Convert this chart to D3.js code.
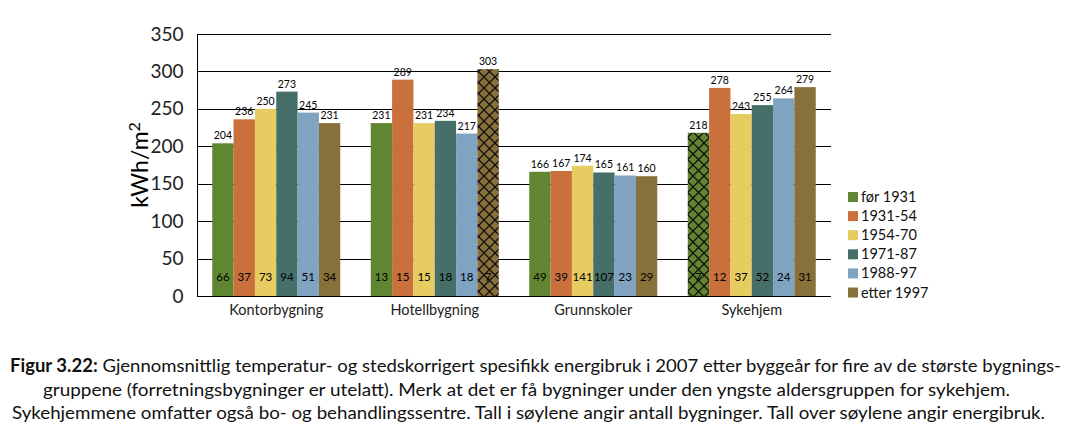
<!DOCTYPE html>
<html>
<head>
<meta charset="utf-8">
<script src="https://cdn.jsdelivr.net/npm/d3@7"></script>
<style>
html,body{margin:0;padding:0;background:#fff;}
svg{display:block;}
</style>
</head>
<body>
<svg id="chart" width="1066" height="428"></svg>
<script>
const categories = ["Kontorbygning", "Hotellbygning", "Grunnskoler", "Sykehjem"];
const seriesNames = ["før 1931", "1931-54", "1954-70", "1971-87", "1988-97", "etter 1997"];
const energy_for1931 = [204, 231, 166, 218];
const energy_1931_54 = [236, 289, 167, 278];
const energy_1954_70 = [250, 231, 174, 243];
const energy_1971_87 = [273, 234, 165, 255];
const energy_1988_97 = [245, 217, 161, 264];
const energy_etter1997 = [231, 303, 160, 279];
const count_for1931 = [66, 13, 49, 7];
const count_1931_54 = [37, 15, 39, 12];
const count_1954_70 = [73, 15, 141, 37];
const count_1971_87 = [94, 18, 107, 52];
const count_1988_97 = [51, 18, 23, 24];
const count_etter1997 = [34, 7, 29, 31];
const yTicks = [0, 50, 100, 150, 200, 250, 300, 350];
const colors = ["#618631", "#c9703c", "#e7cd61", "#466f69", "#7fa3c0", "#88703a"];
// hatched bars (few buildings): [series index, category index]
const hatched = [[5, 1], [0, 3]];

(function () {
const energyAll = [energy_for1931, energy_1931_54, energy_1954_70, energy_1971_87, energy_1988_97, energy_etter1997];
const countAll = [count_for1931, count_1931_54, count_1954_70, count_1971_87, count_1988_97, count_etter1997];

const svg = d3.select("#chart");
const FONT = "Lato, 'Open Sans', sans-serif";

const pL = 197, pR = 831, pT = 34, pB = 296;
const x0 = d3.scaleBand().domain(categories).range([pL, pR]).padding(0);
const x1 = d3.scaleBand().domain(seriesNames).range([15.25, x0.bandwidth() - 15.25]).padding(0);
const y = d3.scaleLinear().domain([0, 350]).range([pB, pT]);

// patterns
const defs = svg.append("defs");
colors.forEach((c, i) => {
  const p = defs.append("pattern").attr("id", "hatch" + i)
    .attr("patternUnits", "userSpaceOnUse").attr("width", 11).attr("height", 11);
  p.append("rect").attr("width", 11).attr("height", 11).attr("fill", c);
  p.append("path").attr("d", "M0,0L11,11M11,0L0,11M-1,10L1,12M10,-1L12,1")
    .attr("stroke", "#111").attr("stroke-width", 1.3);
});

// gridlines
svg.append("g").selectAll("line").data(yTicks).join("line")
  .attr("x1", pL).attr("x2", pR)
  .attr("y1", d => Math.round(y(d)) + 0.5).attr("y2", d => Math.round(y(d)) + 0.5)
  .attr("stroke", "#000").attr("stroke-width", 1);

// y axis
const yAxis = svg.append("g").attr("transform", `translate(${pL + 0.5},0)`)
  .call(d3.axisLeft(y).tickValues(yTicks).tickSize(0).tickPadding(14));
yAxis.select(".domain").attr("stroke", "#000").attr("d", `M0,${pT}V${pB}`);
yAxis.selectAll("text").attr("font-family", FONT).attr("font-size", 19).attr("fill", "#222");

// y label
const yl = svg.append("text").attr("transform", `translate(148,165) rotate(-90)`)
  .attr("text-anchor", "middle").attr("font-family", FONT).attr("font-size", 23).attr("fill", "#000");
yl.append("tspan").text("kWh/m");
yl.append("tspan").text("2").attr("font-size", 16).attr("dy", -8);

// bars
const data = [];
categories.forEach((cat, ci) => {
  seriesNames.forEach((s, si) => {
    data.push({cat, ci, s, si, v: energyAll[si][ci], n: countAll[si][ci],
      hatch: hatched.some(h => h[0] === si && h[1] === ci)});
  });
});

const g = svg.append("g");
g.selectAll("rect").data(data).join("rect")
  .attr("x", d => x0(d.cat) + x1(d.s))
  .attr("y", d => y(d.v))
  .attr("width", x1.bandwidth())
  .attr("height", d => y(0) - y(d.v))
  .attr("fill", d => d.hatch ? `url(#hatch${d.si})` : colors[d.si]);

// x baseline redraw
svg.append("line").attr("x1", pL).attr("x2", pR).attr("y1", Math.round(y(0)) + 0.5).attr("y2", Math.round(y(0)) + 0.5).attr("stroke", "#000");

// value labels
g.selectAll("text.val").data(data).join("text").attr("class", "val")
  .attr("x", d => x0(d.cat) + x1(d.s) + x1.bandwidth() / 2)
  .attr("y", d => y(d.v) - 4)
  .attr("text-anchor", "middle").attr("font-family", FONT).attr("font-size", 10.5).attr("fill", "#000")
  .text(d => d.v);

// count labels
g.selectAll("text.cnt").data(data).join("text").attr("class", "cnt")
  .attr("x", d => x0(d.cat) + x1(d.s) + x1.bandwidth() / 2)
  .attr("y", 281)
  .attr("text-anchor", "middle").attr("font-family", FONT).attr("font-size", 11.5).attr("fill", "#000")
  .text(d => d.n);

// x axis labels
const xAxis = svg.append("g").attr("transform", `translate(0,${pB})`)
  .call(d3.axisBottom(x0).tickSize(0).tickPadding(9));
xAxis.select(".domain").remove();
xAxis.selectAll("text").attr("font-family", FONT).attr("font-size", 14.5).attr("fill", "#222");

// legend
const lg = svg.append("g");
seriesNames.forEach((s, i) => {
  const cy = 197 + i * 19.1;
  lg.append("rect").attr("x", 848).attr("y", cy - 5).attr("width", 10).attr("height", 10).attr("fill", colors[i]);
  lg.append("text").attr("x", 861).attr("y", cy + 5).attr("font-family", FONT).attr("font-size", 14.5)
    .attr("fill", "#111").text(s);
});

// caption
const CF = "Lato, 'Open Sans', sans-serif";
const l1 = svg.append("text").attr("x", 10).attr("y", 372).attr("font-family", CF).attr("font-size", 18).attr("fill", "#111")
  .attr("textLength", 1051).attr("lengthAdjust", "spacingAndGlyphs");
l1.append("tspan").attr("font-weight", "bold").text("Figur 3.22:");
l1.append("tspan").text(" Gjennomsnittlig temperatur- og stedskorrigert spesifikk energibruk i 2007 etter byggeår for fire av de største bygnings-");
svg.append("text").attr("x", 43).attr("y", 395.5).attr("font-family", CF).attr("font-size", 18).attr("fill", "#111")
  .attr("textLength", 967).attr("lengthAdjust", "spacingAndGlyphs")
  .text("gruppene (forretningsbygninger er utelatt). Merk at det er få bygninger under den yngste aldersgruppen for sykehjem.");
svg.append("text").attr("x", 12).attr("y", 418.5).attr("font-family", CF).attr("font-size", 18).attr("fill", "#111")
  .attr("textLength", 1033).attr("lengthAdjust", "spacingAndGlyphs")
  .text("Sykehjemmene omfatter også bo- og behandlingssentre. Tall i søylene angir antall bygninger. Tall over søylene angir energibruk.");
})();
</script>
</body>
</html>
